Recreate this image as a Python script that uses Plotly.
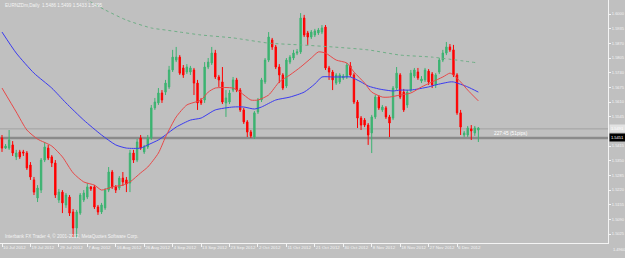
import plotly.graph_objects as go

# ---------------- data (EURNZDm, Daily) ----------------
date_labels = ["10 Jul 2012", "19 Jul 2012", "29 Jul 2012", "7 Aug 2012", "16 Aug 2012",
               "26 Aug 2012", "4 Sep 2012", "13 Sep 2012", "23 Sep 2012", "2 Oct 2012",
               "11 Oct 2012", "21 Oct 2012", "30 Oct 2012", "8 Nov 2012", "18 Nov 2012",
               "27 Nov 2012", "6 Dec 2012"]
bars_per_label = 8

opens = [
    1.5451, 1.5406, 1.5406, 1.5420, 1.5367, 1.5389, 1.5389, 1.5384, 1.5331, 1.5265,
    1.5185, 1.5220, 1.5353, 1.5406, 1.5367, 1.5340, 1.5176, 1.5211, 1.5154, 1.5189,
    1.5123, 1.5052, 1.5118, 1.5176, 1.5189, 1.5234, 1.5234, 1.5145, 1.5123, 1.5141,
    1.5220, 1.5300, 1.5234, 1.5229, 1.5273, 1.5265, 1.5251, 1.5384, 1.5353, 1.5451,
    1.5389, 1.5411, 1.5451, 1.5584, 1.5606, 1.5650, 1.5654, 1.5677, 1.5752, 1.5796,
    1.5809, 1.5761, 1.5743, 1.5743, 1.5752, 1.5694, 1.5619, 1.5619, 1.5765, 1.5783,
    1.5827, 1.5721, 1.5699, 1.5606, 1.5610, 1.5663, 1.5708, 1.5663, 1.5575, 1.5522,
    1.5477, 1.5455, 1.5566, 1.5619, 1.5699, 1.5796, 1.5885, 1.5854, 1.5765, 1.5730,
    1.5681, 1.5787, 1.5805, 1.5827, 1.5832, 1.5982, 1.5916, 1.5898, 1.5907, 1.5916,
    1.5920, 1.5942, 1.5761, 1.5743, 1.5694, 1.5699, 1.5717, 1.5721, 1.5770, 1.5730,
    1.5610, 1.5539, 1.5530, 1.5508, 1.5473, 1.5544, 1.5632, 1.5575, 1.5584, 1.5544,
    1.5539, 1.5672, 1.5730, 1.5654, 1.5597, 1.5663, 1.5725, 1.5743, 1.5703, 1.5708,
    1.5747, 1.5734, 1.5686, 1.5743, 1.5796, 1.5827, 1.5854, 1.5841, 1.5730, 1.5562,
    1.5464, 1.5464, 1.5491, 1.5473, 1.5486]

highs = [
    1.5464, 1.5424, 1.5486, 1.5437, 1.5398, 1.5398, 1.5398, 1.5393, 1.5344, 1.5278,
    1.5242, 1.5362, 1.5433, 1.5420, 1.5375, 1.5353, 1.5225, 1.5220, 1.5207, 1.5198,
    1.5136, 1.5132, 1.5207, 1.5220, 1.5251, 1.5238, 1.5242, 1.5154, 1.5163, 1.5229,
    1.5322, 1.5309, 1.5242, 1.5282, 1.5300, 1.5278, 1.5398, 1.5398, 1.5446, 1.5464,
    1.5420, 1.5464, 1.5597, 1.5628, 1.5672, 1.5663, 1.5708, 1.5770, 1.5841, 1.5854,
    1.5818, 1.5774, 1.5778, 1.5770, 1.5761, 1.5708, 1.5628, 1.5787, 1.5805, 1.5854,
    1.5841, 1.5730, 1.5765, 1.5663, 1.5663, 1.5721, 1.5717, 1.5672, 1.5584, 1.5530,
    1.5486, 1.5570, 1.5628, 1.5717, 1.5805, 1.5920, 1.5894, 1.5863, 1.5778, 1.5738,
    1.5805, 1.5818, 1.5841, 1.5845, 1.6004, 1.5996, 1.5925, 1.5929, 1.5934, 1.5938,
    1.5951, 1.5951, 1.5770, 1.5752, 1.5738, 1.5738, 1.5734, 1.5783, 1.5787, 1.5738,
    1.5619, 1.5548, 1.5539, 1.5517, 1.5553, 1.5641, 1.5641, 1.5597, 1.5592, 1.5553,
    1.5681, 1.5765, 1.5738, 1.5668, 1.5663, 1.5752, 1.5761, 1.5761, 1.5725, 1.5761,
    1.5756, 1.5743, 1.5738, 1.5805, 1.5841, 1.5876, 1.5867, 1.5863, 1.5738, 1.5575,
    1.5482, 1.5504, 1.5508, 1.5504, 1.5499]

lows = [
    1.5389, 1.5402, 1.5398, 1.5371, 1.5353, 1.5358, 1.5371, 1.5309, 1.5265, 1.5198,
    1.5167, 1.5207, 1.5344, 1.5353, 1.5322, 1.5185, 1.5163, 1.5118, 1.5141, 1.5105,
    1.5012, 1.5008, 1.5110, 1.5167, 1.5180, 1.5216, 1.5136, 1.5110, 1.5114, 1.5132,
    1.5211, 1.5225, 1.5207, 1.5220, 1.5238, 1.5211, 1.5211, 1.5340, 1.5344, 1.5398,
    1.5380, 1.5402, 1.5442, 1.5575, 1.5597, 1.5606, 1.5641, 1.5668, 1.5743, 1.5787,
    1.5730, 1.5717, 1.5734, 1.5730, 1.5641, 1.5575, 1.5597, 1.5606, 1.5756, 1.5774,
    1.5712, 1.5677, 1.5601, 1.5544, 1.5601, 1.5654, 1.5654, 1.5566, 1.5513, 1.5455,
    1.5451, 1.5446, 1.5557, 1.5610, 1.5690, 1.5787, 1.5841, 1.5756, 1.5694, 1.5663,
    1.5672, 1.5778, 1.5796, 1.5818, 1.5823, 1.5898, 1.5863, 1.5889, 1.5898, 1.5907,
    1.5911, 1.5752, 1.5708, 1.5663, 1.5686, 1.5690, 1.5708, 1.5712, 1.5721, 1.5601,
    1.5495, 1.5486, 1.5499, 1.5420, 1.5384, 1.5535, 1.5575, 1.5566, 1.5535, 1.5455,
    1.5530, 1.5663, 1.5623, 1.5566, 1.5584, 1.5654, 1.5717, 1.5708, 1.5694, 1.5699,
    1.5686, 1.5672, 1.5672, 1.5734, 1.5787, 1.5818, 1.5832, 1.5721, 1.5553, 1.5464,
    1.5455, 1.5455, 1.5442, 1.5460, 1.5433]

closes = [
    1.5406, 1.5415, 1.5442, 1.5384, 1.5384, 1.5367, 1.5384, 1.5318, 1.5278, 1.5211,
    1.5229, 1.5353, 1.5411, 1.5362, 1.5340, 1.5198, 1.5211, 1.5163, 1.5198, 1.5118,
    1.5052, 1.5123, 1.5198, 1.5207, 1.5234, 1.5225, 1.5145, 1.5123, 1.5154, 1.5220,
    1.5300, 1.5234, 1.5220, 1.5273, 1.5256, 1.5247, 1.5384, 1.5353, 1.5433, 1.5406,
    1.5411, 1.5451, 1.5584, 1.5610, 1.5650, 1.5619, 1.5694, 1.5752, 1.5809, 1.5809,
    1.5738, 1.5730, 1.5765, 1.5761, 1.5694, 1.5606, 1.5606, 1.5765, 1.5787, 1.5827,
    1.5721, 1.5708, 1.5610, 1.5628, 1.5650, 1.5708, 1.5663, 1.5575, 1.5522, 1.5477,
    1.5460, 1.5562, 1.5619, 1.5708, 1.5796, 1.5898, 1.5854, 1.5765, 1.5730, 1.5672,
    1.5796, 1.5809, 1.5827, 1.5832, 1.5982, 1.5907, 1.5898, 1.5920, 1.5925, 1.5929,
    1.5938, 1.5761, 1.5743, 1.5708, 1.5730, 1.5730, 1.5725, 1.5774, 1.5730, 1.5610,
    1.5539, 1.5508, 1.5508, 1.5464, 1.5544, 1.5632, 1.5584, 1.5588, 1.5544, 1.5517,
    1.5672, 1.5738, 1.5632, 1.5575, 1.5654, 1.5738, 1.5752, 1.5717, 1.5712, 1.5752,
    1.5699, 1.5686, 1.5730, 1.5796, 1.5827, 1.5854, 1.5841, 1.5730, 1.5562, 1.5499,
    1.5473, 1.5495, 1.5482, 1.5495, 1.5495]

# moving averages (bar index, price)
red_ma_bars = [0, 4, 7, 10, 14, 17, 20, 23, 26, 28, 31, 34, 36, 39, 41, 44, 46, 49, 52, 56,
               58, 60, 65, 67, 70, 72, 75, 78, 81, 84, 87, 89, 91, 94, 97, 99, 102, 104, 107, 109,
               112, 115, 118, 121, 124, 126, 127, 129, 131, 134]
red_ma = [1.5672, 1.5566, 1.5486, 1.5446, 1.5415, 1.5367, 1.5296, 1.5256, 1.5242, 1.5220,
          1.5234, 1.5242, 1.5256, 1.5296, 1.5322, 1.5384, 1.5455, 1.5544, 1.5597, 1.5619,
          1.5654, 1.5672, 1.5672, 1.5654, 1.5619, 1.5619, 1.5641, 1.5699, 1.5730, 1.5765,
          1.5805, 1.5832, 1.5827, 1.5796, 1.5783, 1.5743, 1.5694, 1.5654, 1.5632, 1.5632,
          1.5641, 1.5650, 1.5677, 1.5699, 1.5721, 1.5738, 1.5730, 1.5699, 1.5663, 1.5615]

blue_ma_bars = [0, 4, 9, 14, 18, 23, 28, 32, 35, 39, 41, 44, 46, 49, 53, 56, 60, 65, 68, 71,
                73, 77, 81, 85, 88, 90, 93, 96, 98, 101, 103, 106, 110, 112, 115, 120, 122, 126,
                127, 131, 134]
blue_ma = [1.5920, 1.5827, 1.5738, 1.5672, 1.5606, 1.5530, 1.5464, 1.5420, 1.5406, 1.5406,
           1.5420, 1.5442, 1.5464, 1.5499, 1.5530, 1.5539, 1.5575, 1.5588, 1.5588, 1.5579,
           1.5588, 1.5619, 1.5632, 1.5654, 1.5690, 1.5721, 1.5721, 1.5721, 1.5721, 1.5699,
           1.5681, 1.5668, 1.5659, 1.5663, 1.5663, 1.5677, 1.5686, 1.5699, 1.5699, 1.5677,
           1.5654]

green_ma_bars = [22, 25, 29, 35, 42, 46, 50, 56, 65, 75, 84, 93, 103, 112, 121, 134]
green_ma = [1.6084, 1.6053, 1.6018, 1.5973, 1.5938, 1.5929, 1.5920, 1.5907, 1.5894, 1.5871,
            1.5863, 1.5854, 1.5841, 1.5818, 1.5809, 1.5783]

# 1.5480 sits under the highlighted line label, so it is not drawn
price_ticks = [1.6000, 1.5935, 1.5870, 1.5805, 1.5740, 1.5675, 1.5610, 1.5545,
               1.5415, 1.5350, 1.5285, 1.5220, 1.5155, 1.5090, 1.5025]
bottom_price_label = "1.4960"

hline_upper = 1.5491
hline_lower = 1.5451
header = "EURNZDm,Daily  1.5486 1.5499 1.5433 1.5495"
timer_text = "227:45 (51pips)"
copyright_text = "Interbank FX Trader 4, \u00a9 2001-2012, MetaQuotes Software Corp."

assert len(opens) == len(highs) == len(lows) == len(closes)
n = len(opens)
bars = list(range(n))

BG = "#C0C0C0"
FG = "#F4F4F4"
GREEN = "#3CB371"
RED = "#FF0000"
FONT = "Liberation Sans"
YFS = 4          # price-scale font size
XFS = 4.4        # date-scale font size

fig = go.Figure()

fig.add_trace(go.Candlestick(
    x=bars, open=opens, high=highs, low=lows, close=closes,
    increasing=dict(line=dict(color=GREEN, width=1), fillcolor=GREEN),
    decreasing=dict(line=dict(color=RED, width=1), fillcolor=RED),
    whiskerwidth=0, showlegend=False, hoverinfo="skip"))

fig.add_trace(go.Scatter(x=green_ma_bars, y=green_ma, mode="lines",
                         line=dict(color="#6FAE86", width=1, dash="dot", shape="spline", smoothing=0.6),
                         showlegend=False, hoverinfo="skip"))
fig.add_trace(go.Scatter(x=blue_ma_bars, y=blue_ma, mode="lines",
                         line=dict(color="#3A3AF0", width=1, shape="spline", smoothing=0.6),
                         showlegend=False, hoverinfo="skip"))
fig.add_trace(go.Scatter(x=red_ma_bars, y=red_ma, mode="lines",
                         line=dict(color="#E84848", width=1, shape="spline", smoothing=0.6),
                         showlegend=False, hoverinfo="skip"))

# horizontal lines
fig.add_shape(type="line", xref="paper", x0=0, x1=1, yref="y", y0=hline_upper, y1=hline_upper,
              line=dict(color="#A2A2A2", width=1), layer="below")
fig.add_shape(type="line", xref="paper", x0=0, x1=1, yref="y", y0=hline_lower, y1=hline_lower,
              line=dict(color="#8A8A8A", width=2.5), layer="below")

PLOT_H = 243
PLOT_W = 608
ann = []
ann.append(dict(text=header, xref="paper", yref="paper", x=0, y=1, xanchor="left", yanchor="top",
                xshift=3, yshift=-1, showarrow=False, font=dict(family=FONT, size=4.6, color=FG)))
ann.append(dict(text=copyright_text, xref="paper", yref="paper", x=0, y=1 - 236 / PLOT_H,
                xanchor="left", yanchor="middle", xshift=3, showarrow=False,
                font=dict(family=FONT, size=4.6, color=FG)))
ann.append(dict(text=timer_text, xref="paper", yref="paper", x=492 / PLOT_W, y=1 - 133 / PLOT_H,
                xanchor="left", yanchor="middle", showarrow=False,
                font=dict(family=FONT, size=4.8, color="#FFFFFF")))
ann.append(dict(text="%.4f" % hline_upper, xref="paper", yref="y", x=1, y=hline_upper,
                xanchor="left", yanchor="middle", xshift=1, showarrow=False,
                bgcolor="#E2E2E2", borderpad=1,
                font=dict(family=FONT, size=YFS, color="#FFFFFF")))
ann.append(dict(text="%.4f" % hline_lower, xref="paper", yref="y", x=1, y=hline_lower,
                xanchor="left", yanchor="middle", xshift=1, showarrow=False,
                bgcolor="#000000", borderpad=1,
                font=dict(family=FONT, size=YFS, color="#FFFFFF")))
ann.append(dict(text=bottom_price_label, xref="paper", yref="paper", x=1, y=1 - 249 / PLOT_H,
                xanchor="left", yanchor="middle", xshift=3, showarrow=False,
                font=dict(family=FONT, size=YFS, color=FG)))

px_per_bar = 3.555
x_lo = -2 / px_per_bar
x_hi = x_lo + PLOT_W / px_per_bar
y_hi = 1.6062
y_lo = y_hi - PLOT_H * 0.000443

fig.update_layout(
    width=625, height=258,
    margin=dict(l=0, r=17, t=0, b=15, autoexpand=False),
    paper_bgcolor=BG, plot_bgcolor=BG,
    boxgap=0.45,
    showlegend=False,
    annotations=ann,
    font=dict(family=FONT, size=5, color=FG),
    xaxis=dict(range=[x_lo, x_hi], showgrid=False, zeroline=False,
               showline=True, linecolor=FG, linewidth=1, mirror=True,
               ticks="outside", ticklen=3, tickcolor=FG, tickangle=0, automargin=False,
               tickvals=[i * bars_per_label for i in range(len(date_labels))],
               ticktext=date_labels, ticklabelposition="outside right",
               tickfont=dict(family=FONT, size=XFS, color=FG),
               rangeslider=dict(visible=False), fixedrange=True),
    yaxis=dict(range=[y_lo, y_hi], side="right", showgrid=False, zeroline=False,
               showline=True, linecolor=FG, linewidth=1, mirror=True,
               ticks="outside", ticklen=2, tickcolor=FG, automargin=False,
               ticklabelstandoff=0,
               tickvals=price_ticks, ticktext=["%.4f" % v for v in price_ticks],
               tickfont=dict(family=FONT, size=YFS, color=FG), fixedrange=True),
)

fig.write_html("out.html")
